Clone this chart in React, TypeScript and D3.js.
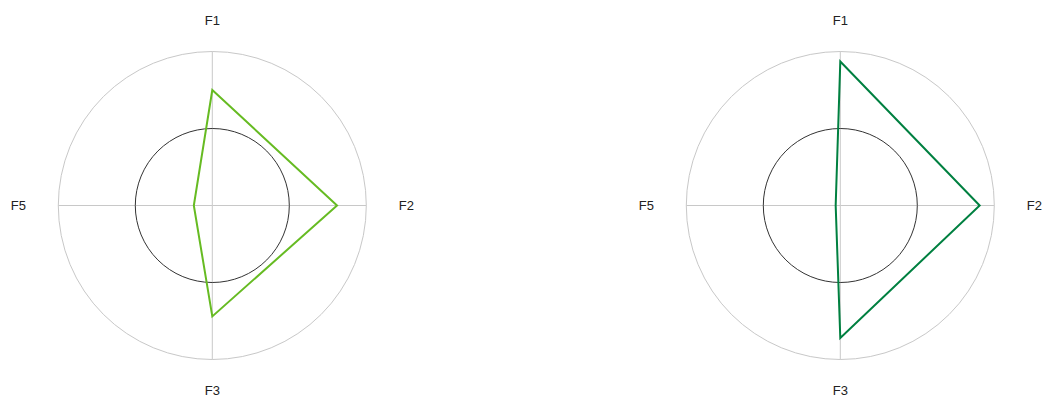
import React, { useEffect, useRef } from 'react';
import * as d3 from 'd3';

const axes = ['F1', 'F2', 'F3', 'F5'];
const seriesA = [0.75, 0.81, 0.72, 0.12];
const seriesB = [0.935, 0.905, 0.86, 0.03];
const colors = ['#66bb22', '#008040'];
const refLevel = 0.5;

const W = 1044;
const H = 400;

const App = () => {
  const svgRef = useRef<SVGSVGElement>(null);

  useEffect(() => {
    const svg = d3.select(svgRef.current);
    svg.selectAll('*').remove();

    const centers = [212.3, 840.3];
    const cy = 205.5;
    const r = d3.scaleLinear().domain([0, 1]).range([0, 154]);
    const angle = d3.scalePoint<string>().domain(axes).range([0, 2 * Math.PI]).padding(0);
    const step = (2 * Math.PI) / axes.length;
    const ang = (i: number) => i * step;

    [seriesA, seriesB].forEach((vals, k) => {
      const g = svg.append('g').attr('transform', `translate(${centers[k]},${cy})`);

      g.append('circle')
        .attr('r', r(1))
        .attr('fill', 'none')
        .attr('stroke', '#c8c8c8')
        .attr('stroke-width', 1);

      g.selectAll('line.axis')
        .data(axes)
        .join('line')
        .attr('class', 'axis')
        .attr('x1', 0)
        .attr('y1', 0)
        .attr('x2', (_, i) => r(1) * Math.sin(ang(i)))
        .attr('y2', (_, i) => -r(1) * Math.cos(ang(i)))
        .attr('stroke', '#c8c8c8')
        .attr('stroke-width', 1);

      g.append('circle')
        .attr('r', r(refLevel))
        .attr('fill', 'none')
        .attr('stroke', '#333')
        .attr('stroke-width', 1);

      const line = d3
        .lineRadial<number>()
        .angle((_, i) => ang(i))
        .radius((d) => r(d))
        .curve(d3.curveLinearClosed);

      g.append('path')
        .attr('d', line(vals))
        .attr('fill', 'none')
        .attr('stroke', colors[k])
        .attr('stroke-width', 2)
        .attr('stroke-linejoin', 'miter');

      g.selectAll('text.lbl')
        .data(axes)
        .join('text')
        .attr('class', 'lbl')
        .attr('x', (_, i) => 194 * Math.sin(ang(i)))
        .attr('y', (_, i) => -185 * Math.cos(ang(i)))
        .attr('dy', '0.35em')
        .attr('text-anchor', 'middle')
        .attr('font-family', 'Liberation Sans, Arial, sans-serif')
        .attr('font-size', 13)
        .attr('fill', '#222')
        .text((d) => d);
    });
  }, []);

  return (
    <div>
      <svg
        ref={svgRef}
        width={W}
        height={H}
        style={{ position: 'absolute', left: 0, top: 0, background: '#fff' }}
      ></svg>
    </div>
  );
};

export default App;
